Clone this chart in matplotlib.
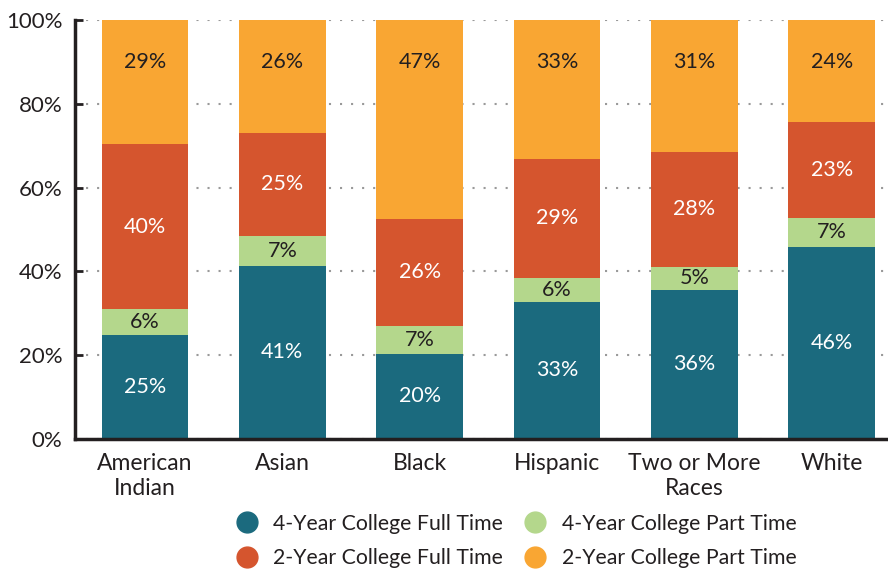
import matplotlib.pyplot as plt
from matplotlib.lines import Line2D
import numpy as np

plt.rcParams['font.family'] = ['Lato', 'DejaVu Sans']

groups = ["American\nIndian", "Asian", "Black", "Hispanic", "Two or More\nRaces", "White"]

# segment shares (%) as drawn, bottom to top
four_full = [24.8, 41.4, 20.3, 32.8, 35.6, 45.8]
four_part = [6.2, 7.0, 6.6, 5.7, 5.5, 7.0]
two_full = [39.4, 24.7, 25.7, 28.3, 27.4, 22.9]
two_part = [29.6, 26.9, 47.4, 33.2, 31.5, 24.3]

# printed labels
four_full_lbl = ["25%", "41%", "20%", "33%", "36%", "46%"]
four_part_lbl = ["6%", "7%", "7%", "6%", "5%", "7%"]
two_full_lbl = ["40%", "25%", "26%", "29%", "28%", "23%"]
two_part_lbl = ["29%", "26%", "47%", "33%", "31%", "24%"]

series = [
    ("4-Year College Full Time", four_full, four_full_lbl, "#1b6a7e", "white"),
    ("4-Year College Part Time", four_part, four_part_lbl, "#b4d78c", "#231f20"),
    ("2-Year College Full Time", two_full, two_full_lbl, "#d5552e", "white"),
    ("2-Year College Part Time", two_part, two_part_lbl, "#f9a633", "#231f20"),
]

fig = plt.figure(figsize=(8.88, 5.73), dpi=100)
ax = fig.add_axes([75 / 888, 1 - 439 / 573, 1 - 75 / 888, (439 - 20) / 573])

x = np.arange(len(groups))
bottom = np.zeros(len(groups))
for i, (name, vals, lbls, color, tcolor) in enumerate(series):
    vals = np.array(vals)
    ax.bar(x, vals, 0.63, bottom=bottom, color=color, zorder=2)
    for xi, b, v, t in zip(x, bottom, vals, lbls):
        if i == 3:
            y = 90  # top segment labels sit near the top of the bar
        else:
            y = b + v / 2
        ax.text(xi, y, t, ha="center", va="center", color=tcolor, fontsize=15.5, zorder=3)
    bottom += vals

ax.set_xlim(-0.51, 5.41)
ax.set_ylim(0, 100)
ax.set_yticks([0, 20, 40, 60, 80, 100])
ax.set_yticklabels(["0%", "20%", "40%", "60%", "80%", "100%"], fontsize=16, color="#231f20")
ax.set_xticks(x)
ax.set_xticklabels(groups, fontsize=16.5, color="#231f20", linespacing=1.25)
ax.tick_params(axis="x", length=0, pad=10)
ax.tick_params(axis="y", direction="in", length=6, width=2, color="#231f20", pad=9)

for s in ["top", "right"]:
    ax.spines[s].set_visible(False)
for s in ["left", "bottom"]:
    ax.spines[s].set_linewidth(2.5)
    ax.spines[s].set_color("#231f20")
ax.spines["bottom"].set_zorder(4)

ax.yaxis.grid(True, color="#999999", linestyle=(0, (1, 4.3)), linewidth=1.5, zorder=0)
ax.set_axisbelow(True)

handles = [Line2D([], [], marker="o", linestyle="", markersize=15, color=s[3]) for s in series]
names = [s[0] for s in series]
order = [0, 2, 1, 3]
fig.legend([handles[k] for k in order], [names[k] for k in order], ncol=2,
           loc="center", bbox_to_anchor=(511 / 888, 1 - 541 / 573), frameon=False,
           fontsize=15.3, handletextpad=0.25, columnspacing=0.5, labelspacing=0.68,
           labelcolor="#231f20")

fig.savefig("out.png", dpi=100)
